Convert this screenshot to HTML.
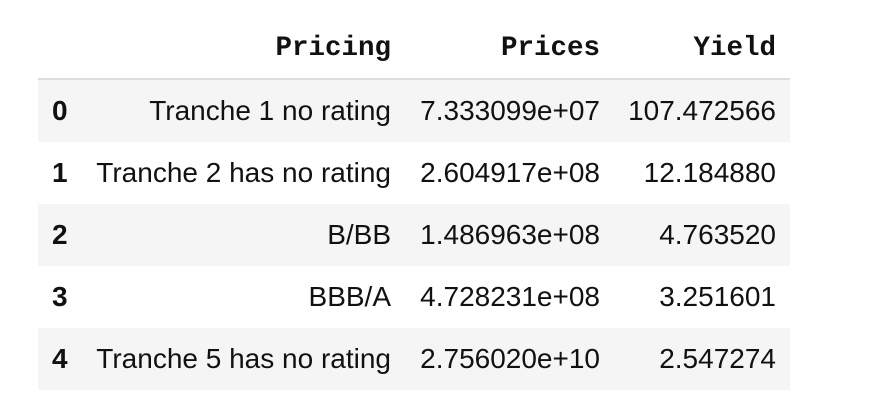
<!DOCTYPE html>
<html><head><meta charset="utf-8"><style>
body{margin:0;width:874px;height:420px;background:#fff;position:relative;overflow:hidden;font-family:"Liberation Sans",Arial,sans-serif;color:#111}
.row{position:absolute;left:38px;width:752px;height:62px}
.g{background:#f5f5f5}
.c{position:absolute;font-size:28px;line-height:62px;white-space:nowrap;top:0}
.r{text-align:right}
.h{font-family:"Liberation Mono","Courier New",monospace;font-weight:bold;font-size:27.5px;position:absolute;top:30px;line-height:38px}
.idx{font-weight:bold;left:14px}
</style></head><body>
<div>
<div style="position:absolute;left:38px;top:0;width:752px;height:78px;border-bottom:2px solid #dcdcdc">
<div class="h" style="right:399px">Pricing</div>
<div class="h" style="right:190px">Prices</div>
<div class="h" style="right:14px">Yield</div>
</div>
<div id="rows"></div>
</div>
<script>
const idx=["0","1","2","3","4"];
const pricing=["Tranche 1 no rating","Tranche 2 has no rating","B/BB","BBB/A","Tranche 5 has no rating"];
const prices=["7.333099e+07","2.604917e+08","1.486963e+08","4.728231e+08","2.756020e+10"];
const yields=["107.472566","12.184880","4.763520","3.251601","2.547274"];
const host=document.getElementById('rows');
idx.forEach((v,i)=>{
const r=document.createElement('div');
r.className='row'+(i%2===0?' g':'');
r.style.top=(80+i*62)+'px';


const cells=[[v,'c idx','left:14px','index-cell'],[pricing[i],'c r','right:399px','pricing-cell'],[prices[i],'c r','right:190px','prices-cell'],[yields[i],'c r','right:14px','yield-cell']];
cells.forEach(c=>{const d=document.createElement('div');d.className=c[1];d.style.cssText=c[2];d.textContent=c[0];


r.appendChild(d);});
host.appendChild(r);
});
</script>
</body></html>
